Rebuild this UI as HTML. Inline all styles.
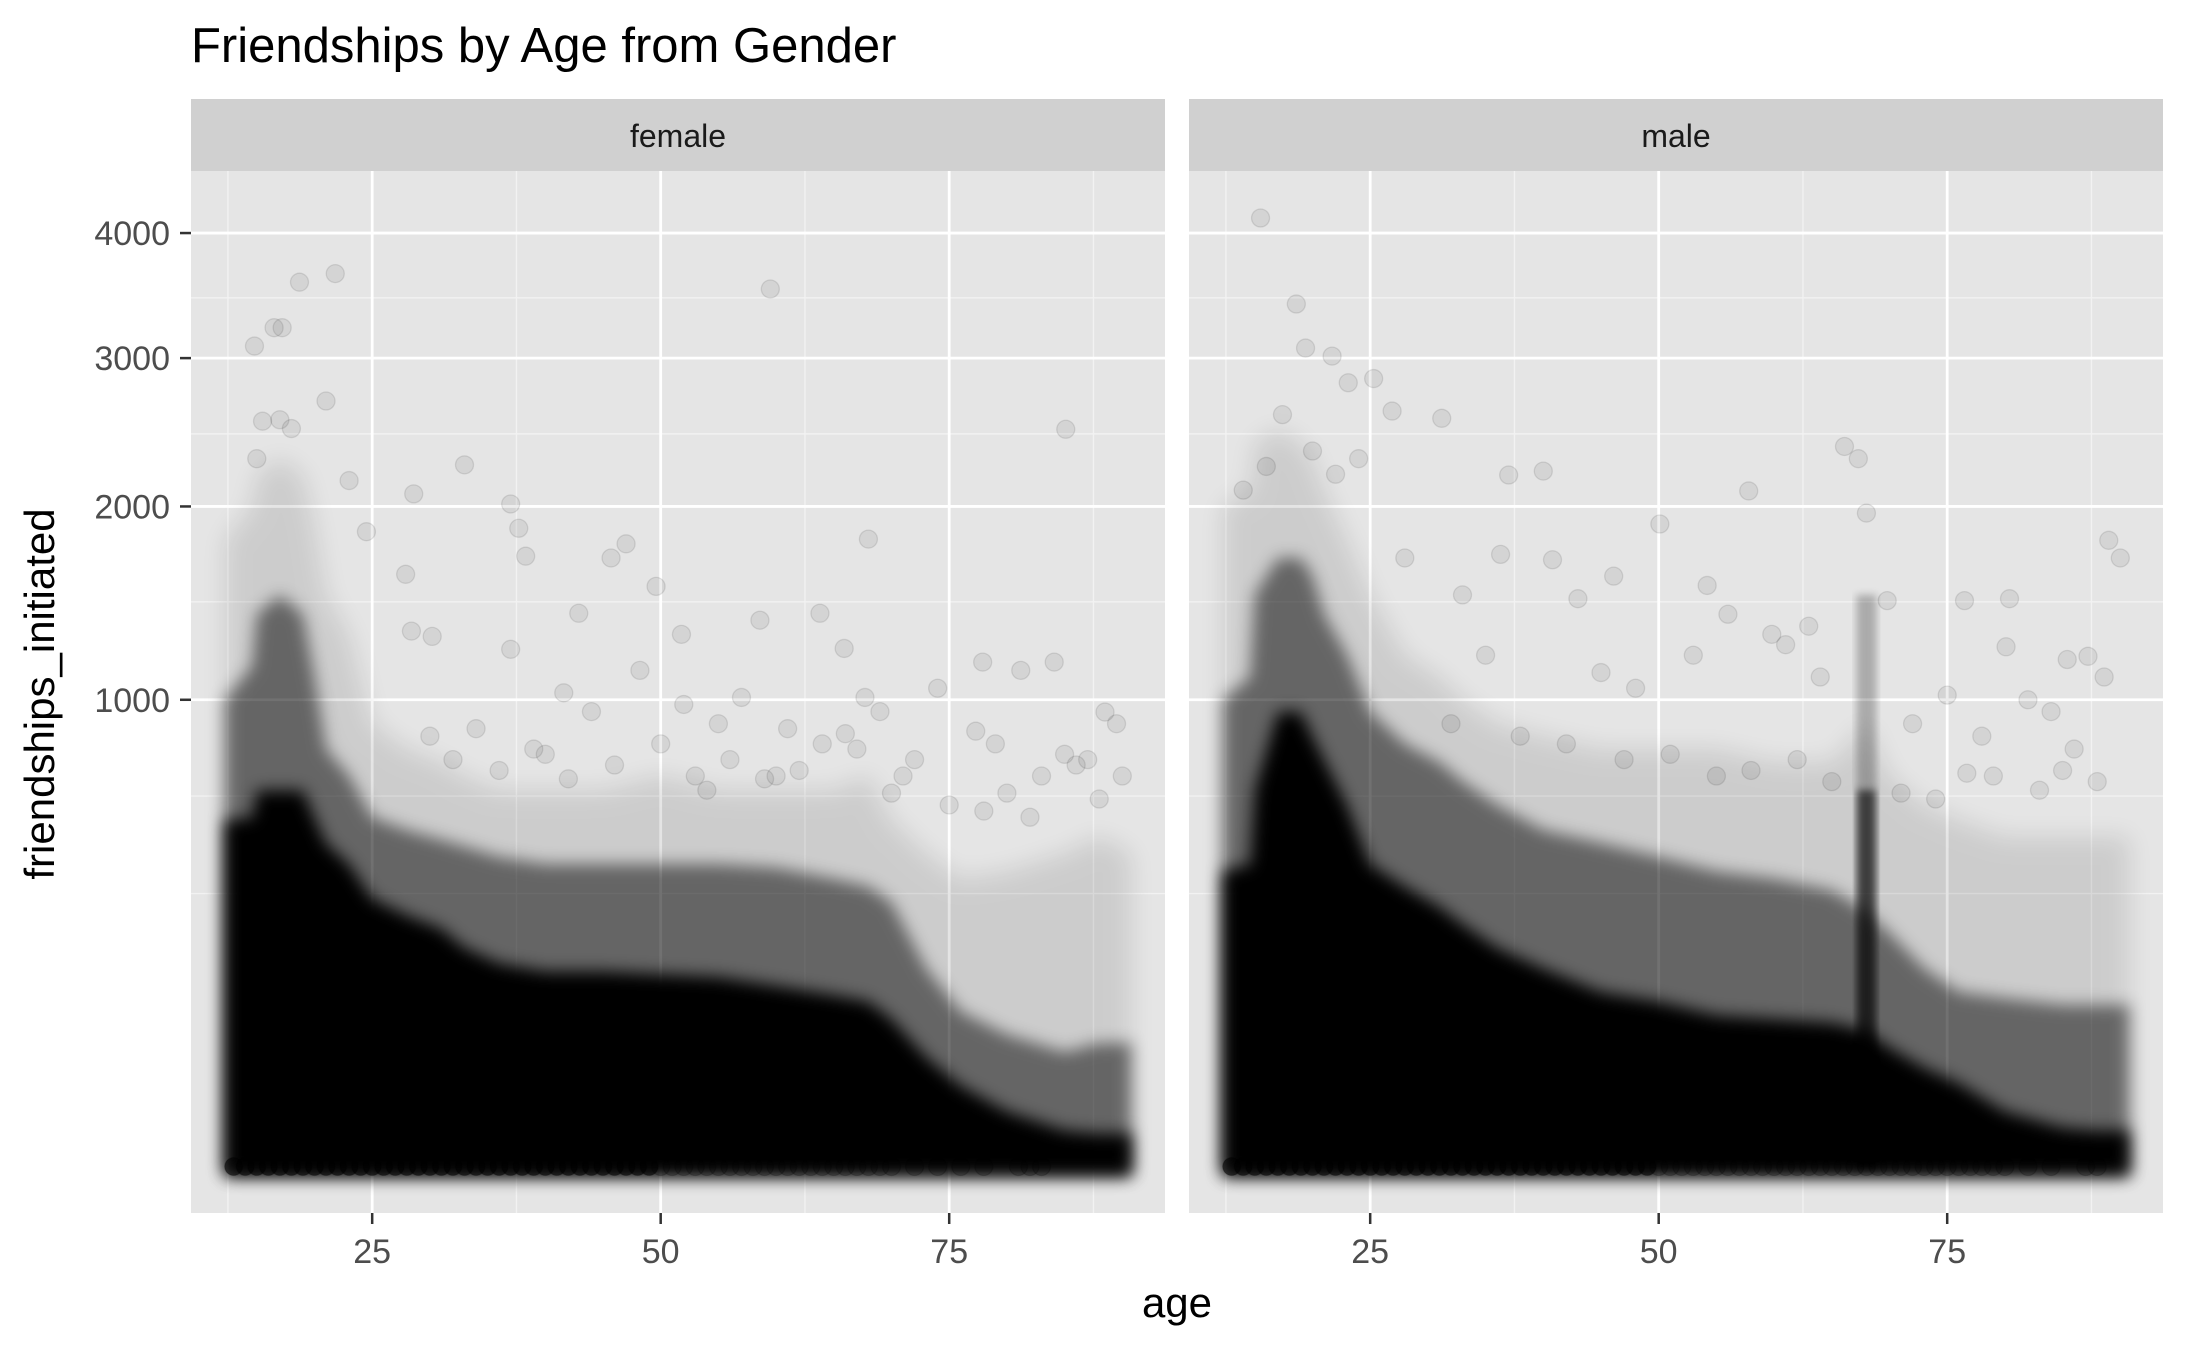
<!DOCTYPE html>
<html><head><meta charset="utf-8"><style>
html,body{margin:0;padding:0;background:#fff;}
svg{display:block;font-family:"Liberation Sans",Arial,sans-serif;}
</style></head><body>
<svg id="chart" width="2187" height="1351" viewBox="0 0 2187 1351" xmlns="http://www.w3.org/2000/svg">
<defs>
<filter id="blurL" x="-20%" y="-20%" width="140%" height="140%"><feGaussianBlur stdDeviation="12"/></filter>
<filter id="blurM" x="-20%" y="-20%" width="140%" height="140%"><feGaussianBlur stdDeviation="8"/></filter>
<filter id="blurS" x="-20%" y="-20%" width="140%" height="140%"><feGaussianBlur stdDeviation="4"/></filter>
</defs>
<text x="191" y="62" font-size="49" fill="#000">Friendships by Age from Gender</text>
<g id="panels"></g>
<text x="1177" y="1317" font-size="42" text-anchor="middle" fill="#000">age</text>
<text transform="translate(54,694) rotate(-90)" font-size="42" text-anchor="middle" fill="#000">friendships_initiated</text>
</svg>
<script>
// ---- data ----
const facets = ["female", "male"];
const xTicks = [25, 50, 75];
const xMinor = [12.5, 37.5, 62.5, 87.5];
const yTicks = [1000, 2000, 3000, 4000];
const yTickLabels = ["1000", "2000", "3000", "4000"];
const yMinor = [342, 630, 1464, 2464, 3464];
const envAges = [13,14.6,15,17,19,20,21,23,25,28,31,33,36,40,45,50,55,60,65,68,70,73,76,80,85,88,90];
const femaleDense = [550,560,650,650,650,560,480,420,330,290,260,220,190,175,175,170,165,150,135,125,100,55,30,14,6,5,5];
const femaleHaze = [1000,1150,1400,1500,1400,1100,800,700,560,520,490,470,440,420,420,420,420,410,380,360,320,180,110,80,60,70,70];
const femaleLight = [1800,2000,2200,2300,2200,1900,1500,1300,900,800,750,700,650,650,650,700,650,650,650,700,550,450,380,400,450,500,450];
const maleDense = [400,420,650,950,950,850,760,600,420,360,310,270,220,180,140,125,105,100,95,85,65,45,32,14,7,6,6];
const maleHaze = [1000,1100,1500,1700,1700,1600,1400,1200,950,820,750,680,600,520,480,440,400,380,350,300,250,180,140,130,120,120,120];
const maleLight = [2000,2100,2400,2500,2400,2300,2100,1800,1500,1200,1100,1000,900,850,800,800,800,750,750,900,700,600,550,500,500,500,500];
const maleSpikeAge = 68;
const maleSpikeDense = 650;
const maleSpikeHaze = 1500;
const femaleZeroAges = [13,14,15,16,17,18,19,20,21,22,23,24,25,26,27,28,29,30,31,32,33,34,35,36,37,38,39,40,41,42,43,44,45,46,47,48,49,50,51,52,53,54,55,56,57,58,59,60,61,62,63,64,65,66,67,68,69,70,72,74,76,78,81,82,83];
const maleZeroAges = [13,14,15,16,17,18,19,20,21,22,23,24,25,26,27,28,29,30,31,32,33,34,35,36,37,38,39,40,41,42,43,44,45,46,47,48,49,50,51,52,53,54,55,56,57,58,59,60,61,62,63,64,65,66,67,68,69,70,71,72,73,74,75,76,77,78,79,80,82,84,87,88];
const femaleOutAge = [14.8,18.7,21.8,21,59.5,85.1,33,28.6,37,37.7,38.3,47,45.7,68,49.6,27.9,42.9,63.8,58.6,51.8,65.9,77.9,84.1,81.2,48.2,74,88.5,77.3,28.4,30.2,37,41.6,89.5,69,67.7,16.5,17.2,15.5,17,18,15,23,24.5,44,55,61,64,72,79,83,86,87,90,34,52,57,66,71,80,85,32,36,39,42,46,50,53,56,59,62,70,75,82,88,30,40,54,60,67,78];
const femaleOutVal = [3090,3590,3660,2690,3535,2495,2260,2077,2015,1870,1710,1780,1700,1807,1545,1610,1405,1405,1370,1300,1232,1168,1168,1130,1130,1050,948,870,1316,1290,1228,1030,900,950,1010,3230,3230,2550,2560,2500,2300,2160,1850,950,900,880,820,760,820,700,740,760,700,880,980,1010,860,700,640,780,760,720,800,690,740,820,700,760,690,720,640,600,560,620,850,780,650,700,800,580];
const maleOutAge = [15.5,18.6,19.4,21.7,17.4,23.1,25.3,26.9,31.2,37,40,66.1,67.3,57.8,50.1,68,36.3,40.8,46.1,54.2,69.8,76.5,80.4,59.8,63,88.6,85.4,80.1,75,76.7,87.2,14,16,20,22,24,28,33,43,48,53,56,61,64,72,78,82,84,86,89,90,35,45,32,38,42,47,51,55,58,62,65,71,74,79,83,85,88];
const maleOutVal = [4130,3415,3075,3015,2595,2820,2850,2620,2570,2195,2220,2380,2300,2095,1895,1960,1720,1690,1600,1550,1470,1470,1480,1300,1340,1100,1180,1240,1020,710,1195,2100,2250,2350,2200,2300,1700,1500,1480,1050,1200,1400,1250,1100,900,850,1000,950,800,1800,1700,1200,1120,900,850,820,760,780,700,720,760,680,640,620,700,650,720,680];

// ---- scales ----
const panelTop = 171, panelBottom = 1213, panelW = 974;
const panelLefts = [191, 1189];
const ageMin = 9.3, ageMax = 93.7, sMin = -3.15, sMax = 67.45;
function xScale(age, left) { return left + (age - ageMin) / (ageMax - ageMin) * panelW; }
function yScale(v) { return panelBottom - (Math.sqrt(Math.max(v, 0)) - sMin) / (sMax - sMin) * (panelBottom - panelTop); }

const NS = "http://www.w3.org/2000/svg";
const root = document.getElementById("panels");
function mk(tag, attrs, parent) {
  const e = document.createElementNS(NS, tag);
  for (const k in attrs) e.setAttribute(k, attrs[k]);
  parent.appendChild(e);
  return e;
}
function envPath(ages, vals, left) {
  const base = yScale(0) + 9;
  let d = "M" + (xScale(ages[0], left) - 9) + "," + base;
  for (let i = 0; i < ages.length; i++) {
    const xx = xScale(ages[i], left) + (i === 0 ? -9 : (i === ages.length - 1 ? 9 : 0));
    d += " L" + xx + "," + yScale(vals[i]);
  }
  d += " L" + (xScale(ages[ages.length - 1], left) + 9) + "," + base + " Z";
  return d;
}

facets.forEach(function (name, fi) {
  const left = panelLefts[fi];
  const g = mk("g", {}, root);
  
  
  const bg = mk("rect", { x: left, y: panelTop, width: panelW, height: panelBottom - panelTop, fill: "#e5e5e5" }, g);
  
  
  const strip = mk("rect", { x: left, y: 99, width: panelW, height: 72, fill: "#d0d0d0" }, g);
  
  
  const st = mk("text", { x: left + panelW / 2, y: 147, "font-size": 32, "text-anchor": "middle", fill: "#1a1a1a" }, g);
  st.textContent = name;
  
  
  yMinor.forEach(function (v) {
    const l = mk("line", { x1: left, x2: left + panelW, y1: yScale(v), y2: yScale(v), stroke: "#f2f2f2", "stroke-width": 1.4 }, g);
    
    
  });
  xMinor.forEach(function (a) {
    const l = mk("line", { x1: xScale(a, left), x2: xScale(a, left), y1: panelTop, y2: panelBottom, stroke: "#f2f2f2", "stroke-width": 1.4 }, g);
    
    
  });
  yTicks.forEach(function (v) {
    const l = mk("line", { x1: left, x2: left + panelW, y1: yScale(v), y2: yScale(v), stroke: "#ffffff", "stroke-width": 2.8 }, g);
    
    
  });
  xTicks.forEach(function (a) {
    const l = mk("line", { x1: xScale(a, left), x2: xScale(a, left), y1: panelTop, y2: panelBottom, stroke: "#ffffff", "stroke-width": 2.8 }, g);
    
    
  });
  const clipId = "clip" + fi;
  const cp = mk("clipPath", { id: clipId }, g);
  mk("rect", { x: left, y: panelTop, width: panelW, height: panelBottom - panelTop }, cp);
  const data = mk("g", { "clip-path": "url(#" + clipId + ")" }, g);
  
  
  const dense = fi === 0 ? femaleDense : maleDense;
  const haze = fi === 0 ? femaleHaze : maleHaze;
  const light = fi === 0 ? femaleLight : maleLight;
  const p1 = mk("path", { d: envPath(envAges, light, left), fill: "#000", opacity: 0.1, filter: "url(#blurL)" }, data);
  
  
  const p2 = mk("path", { d: envPath(envAges, haze, left), fill: "#000", opacity: 0.5, filter: "url(#blurM)" }, data);
  
  
  const p3 = mk("path", { d: envPath(envAges, dense, left), fill: "#000", opacity: 1, filter: "url(#blurM)" }, data);
  
  
  if (fi === 1) {
    const sx = xScale(maleSpikeAge, left);
    const s1 = mk("rect", { x: sx - 10, y: yScale(maleSpikeHaze), width: 20, height: yScale(0) - yScale(maleSpikeHaze), fill: "#000", opacity: 0.25, filter: "url(#blurS)" }, data);
    
    
    const s2 = mk("rect", { x: sx - 9, y: yScale(maleSpikeDense), width: 18, height: yScale(0) - yScale(maleSpikeDense), fill: "#000", opacity: 0.6, filter: "url(#blurS)" }, data);
    
    
  }
  const zeros = fi === 0 ? femaleZeroAges : maleZeroAges;
  zeros.forEach(function (a) {
    const c = mk("circle", { cx: xScale(a, left), cy: yScale(0), r: 9, fill: "#000", "fill-opacity": a < 50 ? 0.6 : 0.18, stroke: "#000", "stroke-opacity": 0.2, "stroke-width": 1.2 }, data);
    
    
  });
  const oa = fi === 0 ? femaleOutAge : maleOutAge;
  const ov = fi === 0 ? femaleOutVal : maleOutVal;
  oa.forEach(function (a, i) {
    const c = mk("circle", { cx: xScale(a, left), cy: yScale(ov[i]), r: 9, fill: "#000", "fill-opacity": 0.07, stroke: "#000", "stroke-opacity": 0.1, "stroke-width": 1.3 }, data);
    
    
  });
  xTicks.forEach(function (a) {
    const xx = xScale(a, left);
    const t = mk("line", { x1: xx, x2: xx, y1: panelBottom, y2: panelBottom + 11, stroke: "#333", "stroke-width": 2.5 }, g);
    
    
    const lb = mk("text", { x: xx, y: 1263, "font-size": 34, "text-anchor": "middle", fill: "#4d4d4d" }, g);
    lb.textContent = String(a);
    
    
  });
});
yTicks.forEach(function (v, i) {
  const yy = yScale(v);
  const t = mk("line", { x1: 180, x2: 191, y1: yy, y2: yy, stroke: "#333", "stroke-width": 2.5 }, root);
  
  
  const lb = mk("text", { x: 170, y: yy + 12, "font-size": 34, "text-anchor": "end", fill: "#4d4d4d" }, root);
  lb.textContent = yTickLabels[i];
  
  
});
</script>
</body></html>
